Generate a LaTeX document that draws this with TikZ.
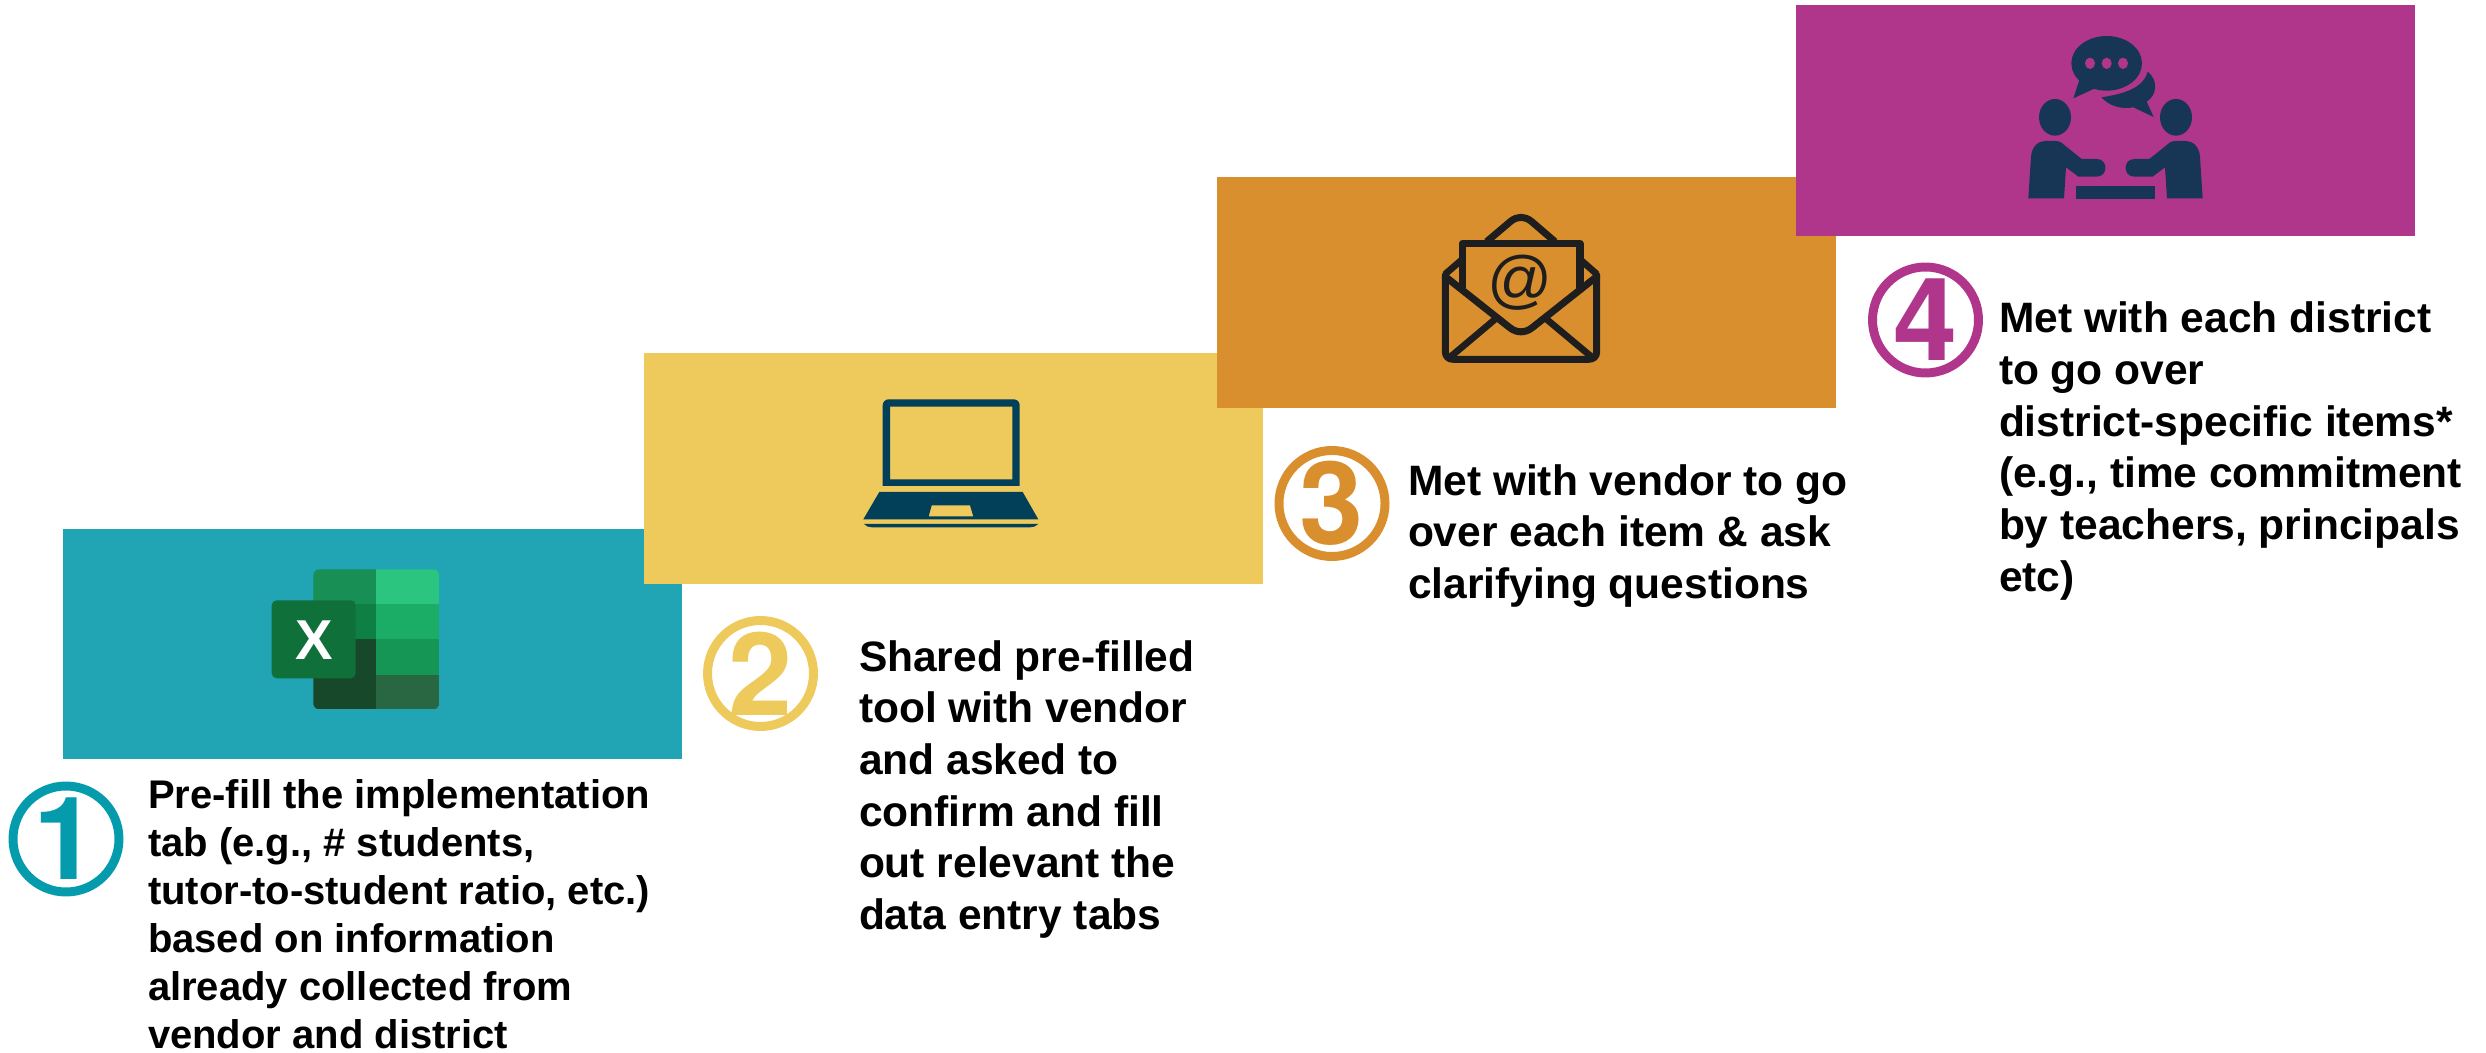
\documentclass[tikz,border=0pt]{standalone}
\usepackage{fontspec}
\setmainfont{Liberation Sans}
\newfontfamily\digitfont{TeX Gyre Heros}
\definecolor{cteal}{HTML}{21A5B4}
\definecolor{cyellow}{HTML}{EEC95C}
\definecolor{corange}{HTML}{D98F2D}
\definecolor{cmagenta}{HTML}{B0368B}
\definecolor{ringteal}{HTML}{049BAD}
\definecolor{cnavy}{HTML}{023F58}
\definecolor{cink}{HTML}{1E1E1E}
\definecolor{cpeople}{HTML}{173555}
\tikzset{
  stepbox/.style={rectangle,draw=none,fill=#1,minimum width=12.38cm,minimum height=4.62cm,inner sep=0pt,outer sep=0pt},
  numring/.style={circle,draw=#1,text=#1,line width=5.1pt,minimum size=2.12cm,inner sep=0pt,outer sep=0pt,font=\digitfont\bfseries\fontsize{65.6}{66}\selectfont},
  bodytext/.style={anchor=north west,align=left,inner sep=0pt,outer sep=0pt,text=black,font=\bfseries\fontsize{24.2}{29.4}\selectfont},
  smalltext/.style={bodytext,font=\bfseries\fontsize{22.76}{27.3}\selectfont},
  zoomed/.style={x=0.006667cm,y=-0.006667cm},
}
\begin{document}
\begin{tikzpicture}[x=0.02cm,y=-0.02cm]
\useasboundingbox (0,0) rectangle (2486,1053);
% boxes
\node[stepbox=cteal]    (box1) at (372.5,644) {};
\node[stepbox=cyellow]  (box2) at (953.5,468.5) {};
\node[stepbox=corange]  (box3) at (1526.5,292.5) {};
\node[stepbox=cmagenta] (box4) at (2105.5,120.5) {};
% numbered rings
\node[numring=ringteal] (num1) at (66,839) {1};
\node[numring=cyellow]  (num2) at (760.5,673.5) {2};
\node[numring=corange]  (num3) at (1332,503.5) {3};
\node[numring=cmagenta] (num4) at (1925.5,320) {4};
% texts
\node[smalltext] (text1) at (148,780) {Pre-fill the implementation\\tab (e.g., \# students,\\tutor-to-student ratio, etc.)\\based on information\\already collected from\\vendor and district};
\node[bodytext] (text2) at (859,640.5) {Shared pre-filled\\tool with vendor\\and asked to\\confirm and fill\\out relevant the\\data entry tabs};
\node[bodytext] (text3) at (1408,464.5) {Met with vendor to go\\over each item \& ask\\clarifying questions};
\node[bodytext] (text4) at (1999,302) {Met with each district\\to go over\\district-specific items*\\(e.g., time commitment\\by teachers, principals\\etc)};
% Excel icon
\begin{scope}
\clip[rounded corners=6*0.02cm] (313.3,569.3) rectangle (439.3,709.3);
\fill[fill={rgb,255:red,23;green,143;blue,85}] (313.3,569.3) rectangle (376,604);
\fill[fill={rgb,255:red,15;green,128;blue,68}] (313.3,604) rectangle (376,639.3);
\fill[fill={rgb,255:red,23;green,72;blue,42}] (313.3,639.3) rectangle (376,709.3);
\fill[fill={rgb,255:red,44;green,197;blue,127}] (376,569.3) rectangle (439.3,604);
\fill[fill={rgb,255:red,27;green,172;blue,102}] (376,604) rectangle (439.3,639.3);
\fill[fill={rgb,255:red,21;green,150;blue,85}] (376,639.3) rectangle (439.3,674.7);
\fill[fill={rgb,255:red,41;green,103;blue,67}] (376,674.7) rectangle (439.3,709.3);
\end{scope}
\fill[fill={rgb,255:red,16;green,112;blue,57},rounded corners=5*0.02cm] (271.7,600.3) rectangle (355.7,678.3);
\node[inner sep=0pt,text=white,font=\bfseries\fontsize{32}{32}\selectfont] (xlabel) at (314.5,640) {X};
% laptop icon
\fill[cnavy,even odd rule] [rounded corners=6*0.02cm] (882.7,486) [sharp corners] -- (882.7,486) [rounded corners=6*0.02cm] -- (882.7,399.3) -- (1019.7,399.3) [sharp corners] -- (1019.7,486) -- cycle
  (890,406.7) rectangle (1012.3,479.3);
\fill[cnavy,even odd rule] (879.3,492) -- (1022.7,492) -- (1038.3,519.3) -- (863.3,519.3) -- cycle
  (931.7,505.3) -- (970,505.3) -- (973.3,516.3) -- (928.7,516.3) -- cycle;
\fill[cnavy] (864,524) -- (1038.3,524) .. controls (1036,526.5) and (1033,527.3) .. (1030,527.3) -- (872,527.3) .. controls (869,527.3) and (866,526.5) .. (864,524) -- cycle;
% envelope icon
\begin{scope}[shift={(1420,200)},zoomed]
\draw[cink,line width=4pt,line join=round,line cap=round]
  (76,225) -- (76,455) .. controls (76,470) and (86,478) .. (100,478) -- (505,478) .. controls (520,478) and (530,470) .. (530,455) -- (530,225);
\draw[cink,line width=3.8pt,line join=round] (76,222) -- (127,178) (530,222) -- (480,178);
\draw[cink,line width=4pt,line join=round,line cap=round]
  (76,230) -- (268,382) .. controls (290,400) and (316,400) .. (338,382) -- (530,230);
\draw[cink,line width=3.8pt] (92,470) -- (225,358) (514,470) -- (380,358);
\draw[cink,line width=4pt,line join=round] (127,265) -- (127,130) -- (480,130) -- (480,265);
\draw[cink,line width=4pt,line join=round] (200,125) -- (272,64) .. controls (292,48) and (314,48) .. (334,64) -- (405,125);
\node[inner sep=0pt,text=cink,font=\fontsize{36.5}{37}\selectfont] (atsign) at (301,247) {@};
\end{scope}
% people icon
\begin{scope}[shift={(2000,20)},zoomed]
\fill[cpeople] (320,130) ellipse[x radius=106,y radius=82];
\fill[cpeople] (238,180) -- (220,235) -- (285,205) -- cycle;
\fill[cmagenta] (270,130) ellipse[x radius=15,y radius=17] (320,130) ellipse[x radius=15,y radius=17] (369,130) ellipse[x radius=15,y radius=17];
\fill[cpeople] (443,155) .. controls (475,180) and (472,225) .. (440,245) -- (461,291) -- (400,262) .. controls (360,270) and (325,255) .. (304,232) .. controls (370,222) and (430,205) .. (443,155) -- cycle;
\fill[cpeople] (165,292) ellipse[x radius=48,y radius=55] (528,292) ellipse[x radius=48,y radius=55];
\fill[cpeople] (85,535) -- (93,410) .. controls (95,380) and (115,363) .. (135,363) -- (165,363) .. controls (180,363) and (185,368) .. (195,377) -- (245,417) -- (290,417) .. controls (325,417) and (325,470) .. (290,470) -- (235,470) -- (198,442) -- (192,535) -- cycle;
\fill[cpeople] (608,535) -- (600,410) .. controls (598,380) and (578,363) .. (558,363) -- (528,363) .. controls (513,363) and (508,368) .. (498,377) -- (448,417) -- (403,417) .. controls (368,417) and (368,470) .. (403,470) -- (458,470) -- (495,442) -- (501,535) -- cycle;
\fill[cpeople] (227,497) rectangle (466,536);
\end{scope}
\end{tikzpicture}
\end{document}
